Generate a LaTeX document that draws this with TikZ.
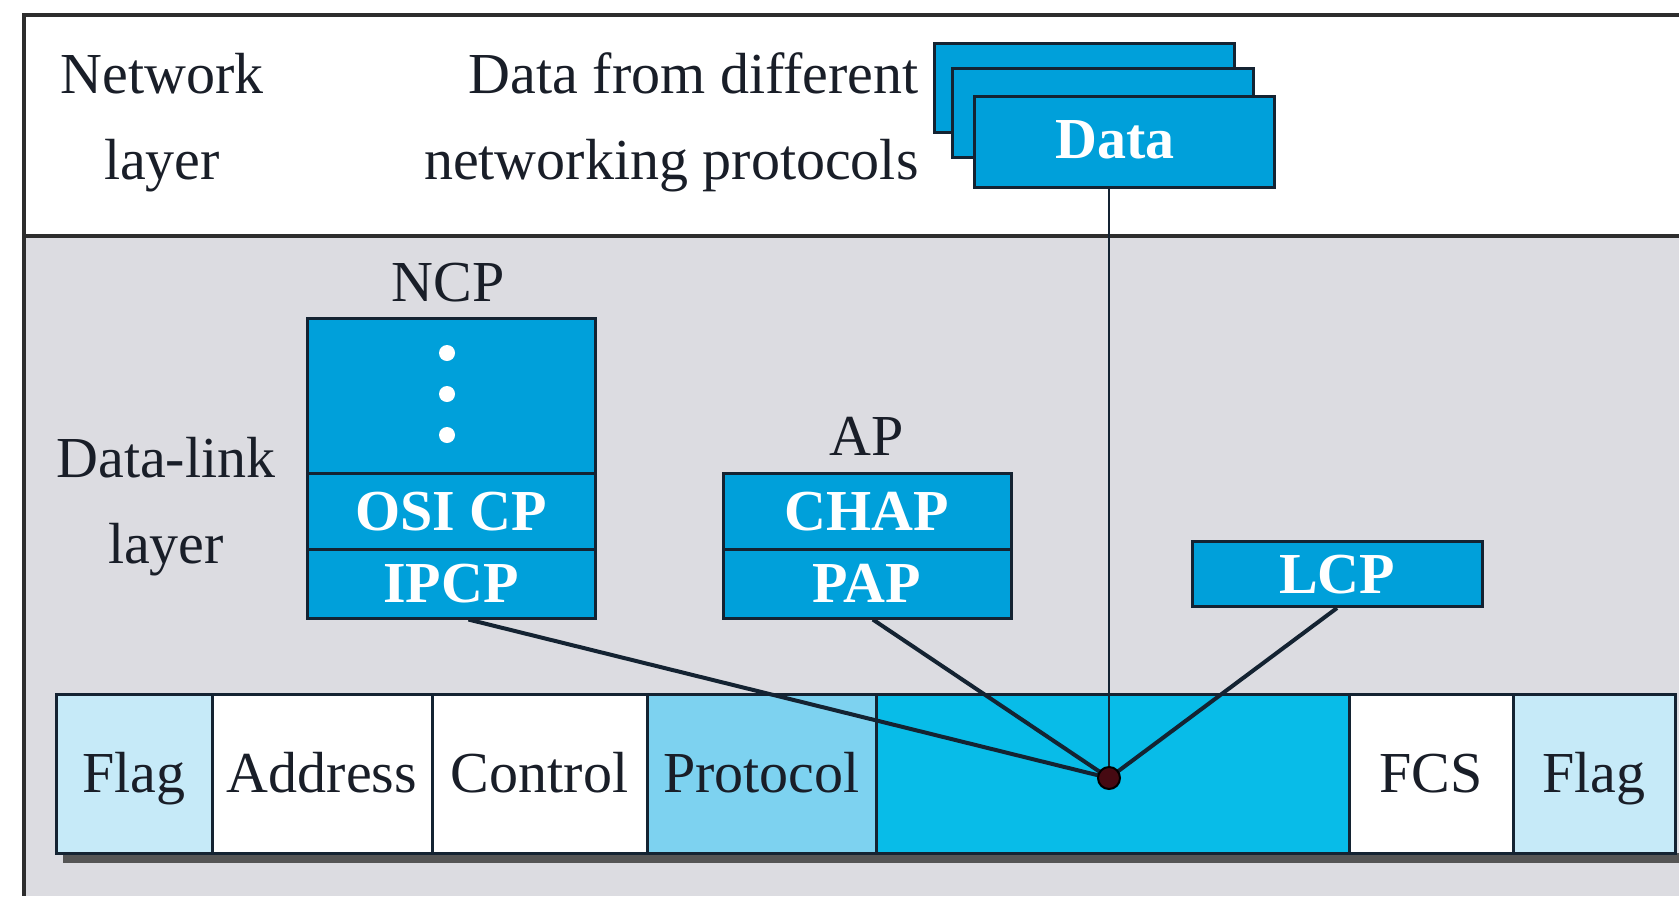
\documentclass[tikz,border=0pt]{standalone}
\usepackage{fontspec}
\setmainfont{Liberation Serif}
\usetikzlibrary{calc}
\definecolor{boxcyan}{RGB}{0,160,218}
\definecolor{fieldcyan}{RGB}{8,188,232}
\definecolor{protoblue}{RGB}{125,210,240}
\definecolor{flagblue}{RGB}{198,234,248}
\definecolor{bggray}{RGB}{220,220,225}
\definecolor{boxline}{RGB}{20,35,50}
\definecolor{framecol}{RGB}{45,45,45}
\definecolor{shadowcol}{RGB}{85,85,85}
\definecolor{dotcol}{RGB}{70,10,18}
\definecolor{txtcol}{RGB}{25,30,40}
\begin{document}
\begin{tikzpicture}[x=0.5pt,y=-0.5pt,
  font=\fontsize{29}{43}\selectfont,
  bluebox/.style={draw=boxline, line width=1.5pt, fill=boxcyan, text=white,
    font=\fontsize{29}{43}\selectfont\bfseries, inner sep=0pt,
    text height=19.2pt, text depth=0pt},
  cell/.style={draw=boxline, line width=1.5pt, inner sep=0pt, text=txtcol,
    minimum height=79.5pt, text height=19.2pt, text depth=0pt},
  lbl/.style={text=txtcol, inner sep=0pt},
  conn/.style={draw=boxline, line width=2pt},
  framestyle/.style={draw=framecol, line width=2pt}]
\useasboundingbox (0,0) rectangle (1679,896);
\fill[white] (0,0) rectangle (1679,896);
\fill[bggray] (23.5,236) rectangle (1679,896);
\draw[framestyle] (1679,15) -- (23.5,15) -- (23.5,896);
\draw[framestyle] (23.5,236) -- (1679,236);

% labels
\node[lbl, align=center] (netlbl) at (162,123) {Network\\layer};
\node[lbl, align=right, anchor=east] (datalbl) at (919,122) {Data from different\\networking protocols};
\node[lbl, align=center] (dllbl) at (166,507) {Data-link\\layer};
\node[lbl] (ncplbl) at (448,283) {NCP};
\node[lbl] (aplbl) at (867,436) {AP};

% data stack
\node[bluebox, minimum width=150pt, minimum height=44.5pt] (databack) at (1084.5,87.5) {};
\node[bluebox, minimum width=150.5pt, minimum height=44.5pt] (datamid) at (1102.5,112.5) {};
\node[bluebox, minimum width=150pt, minimum height=45.5pt] (datafront) at (1124,141.5) {};
\node[lbl, text=white, font=\fontsize{29}{43}\selectfont\bfseries] (datatxt) at (1115,140) {Data};

% NCP stack
\node[bluebox, minimum width=144pt, minimum height=77.5pt] (ncptop) at (451,395.5) {};
\node[bluebox, minimum width=144pt, minimum height=38pt] (osicp) at (451,511) {OSI CP};
\node[bluebox, minimum width=144pt, minimum height=34.5pt] (ipcp) at (451,583.5) {IPCP};
\foreach \yy in {353,394,435} \fill[white] (447,\yy) circle (4pt);

% AP stack
\node[bluebox, minimum width=144pt, minimum height=38pt] (chap) at (867,511) {CHAP};
\node[bluebox, minimum width=144pt, minimum height=34.5pt] (pap) at (867,583.5) {PAP};

% LCP
\node[bluebox, minimum width=145pt, minimum height=32.5pt] (lcp) at (1337,574) {LCP};

% frame row
\fill[shadowcol] (63,853) rectangle (1679,863);
\node[cell, fill=flagblue, minimum width=78pt] (flag1) at (134,773.5) {Flag};
\node[cell, fill=white, minimum width=110pt] (addr) at (322,773.5) {Address};
\node[cell, fill=white, minimum width=107.5pt] (ctrl) at (539.5,773.5) {Control};
\node[cell, fill=protoblue, minimum width=114.5pt] (proto) at (761.5,773.5) {Protocol};
\node[cell, fill=fieldcyan, minimum width=236.5pt] (field) at (1112.5,773.5) {};
\node[cell, fill=white, minimum width=82pt] (fcs) at (1431,773.5) {FCS};
\node[cell, fill=flagblue, minimum width=81pt] (flag2) at (1594,773.5) {Flag};

% connectors
\coordinate (dotpos) at (1109,778);
\draw[conn] ($(ipcp.south west)!0.56!(ipcp.south east)$) -- (dotpos);
\draw[conn] ($(pap.south west)!0.52!(pap.south east)$) -- (dotpos);
\draw[conn] (lcp.south) -- (dotpos);
\draw[conn, line width=1.2pt] (dotpos |- datafront.south) -- (dotpos);
\node[circle, fill=dotcol, draw=black, line width=1pt, minimum size=11pt, inner sep=0pt] (dot) at (dotpos) {};
\end{tikzpicture}
\end{document}
